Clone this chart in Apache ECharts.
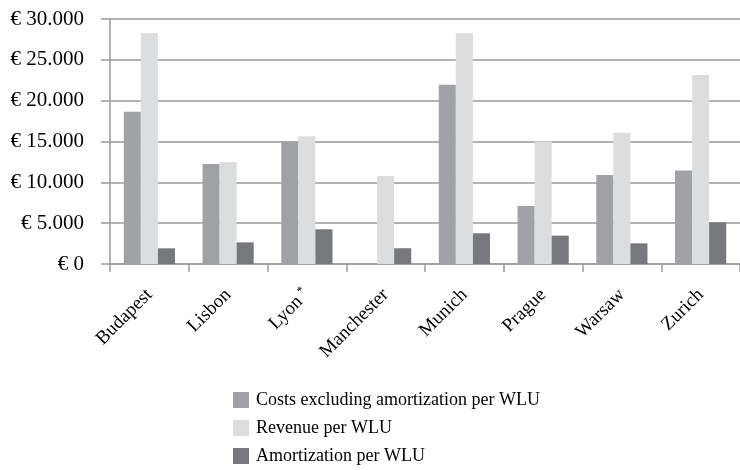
<!DOCTYPE html>
<html>
<head>
<meta charset="utf-8">
<script src="https://cdn.jsdelivr.net/npm/echarts@6/dist/echarts.min.js"></script>
<style>html,body{margin:0;padding:0;background:#fff}#c{width:740px;height:470px}</style>
</head>
<body>
<div id="c"></div>
<script>
const categories = ['Budapest', 'Lisbon', 'Lyon *', 'Manchester', 'Munich', 'Prague', 'Warsaw', 'Zurich'];
const costsExclAmortization = [18650, 12250, 15000, 0, 21950, 7100, 10900, 11450];
const revenue = [28250, 12450, 15650, 10780, 28250, 15000, 16080, 23150];
const amortization = [1920, 2650, 4250, 1930, 3760, 3470, 2530, 5100];
const seriesNames = ['Costs excluding amortization per WLU', 'Revenue per WLU', 'Amortization per WLU'];
const yTicks = { min: 0, max: 30000, interval: 5000 };

const font = 'Liberation Serif, Times New Roman, serif';
const chart = echarts.init(document.getElementById('c'), null, { renderer: 'canvas' });
function fmt(v) {
  return '€ ' + String(v).replace(/\B(?=(\d{3})+(?!\d))/g, '.');
}
const colors = ['#a0a1a4', '#dcddde', '#77787b'];
const datas = [costsExclAmortization, revenue, amortization];
chart.setOption({
  animation: false,
  textStyle: { fontFamily: font, color: '#000' },
  grid: { left: 110, top: 19, width: 639, height: 245 },
  legend: {
    orient: 'vertical', left: 233, top: 391, height: 80, padding: 0,
    itemWidth: 16, itemHeight: 16, itemGap: 10,
    icon: 'rect',
    textStyle: { fontFamily: font, fontSize: 18, lineHeight: 18, color: '#000', padding: [0, 0, 0, 2] },
    data: seriesNames
  },
  xAxis: {
    type: 'category',
    data: categories,
    axisLine: { lineStyle: { color: '#9a9a9a', width: 1.5 } },
    axisTick: { show: true, length: 8, lineStyle: { color: '#9a9a9a', width: 1.5 } },
    axisLabel: {
      rotate: 45, margin: 28, fontSize: 19, fontFamily: font, color: '#000',
      interval: 0,
      formatter: function (v) {
        if (v.indexOf('*') >= 0) return v.replace(' *', '') + '{sup|*}';
        return v;
      },
      rich: { sup: { fontSize: 12, fontFamily: font, color: '#000', verticalAlign: 'top', padding: [0, 0, 10, 4] } }
    }
  },
  yAxis: {
    type: 'value',
    min: yTicks.min, max: yTicks.max, interval: yTicks.interval,
    axisLine: { show: true, lineStyle: { color: '#9a9a9a', width: 1.5 } },
    axisTick: { show: true, length: 9, lineStyle: { color: '#9a9a9a', width: 1.5 } },
    splitLine: { show: true, lineStyle: { color: '#9a9a9a', width: 1.5 } },
    axisLabel: { formatter: fmt, fontSize: 21, fontFamily: font, color: '#000', margin: 26 }
  },
  series: seriesNames.map((n, i) => ({
    name: n, type: 'bar', data: datas[i],
    itemStyle: { color: colors[i] },
    barGap: '0%', barCategoryGap: '35%'
  }))
});
</script>
</body>
</html>
